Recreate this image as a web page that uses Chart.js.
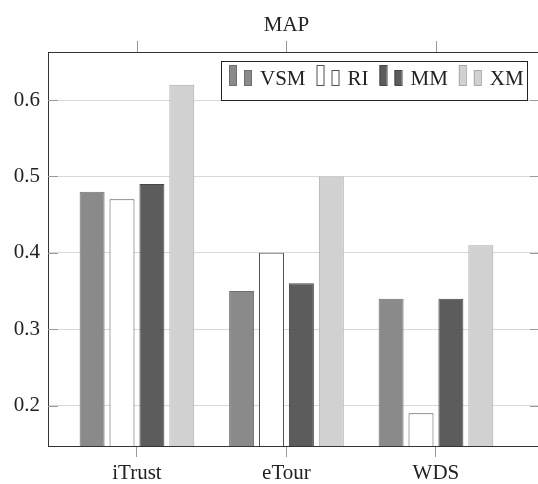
<!DOCTYPE html>
<html>
<head>
<meta charset="utf-8">
<script src="https://cdn.jsdelivr.net/npm/chart.js@4/dist/chart.umd.min.js"></script>
<style>
  html, body { margin: 0; padding: 0; background: #fff; overflow: hidden; width: 538px; height: 484px; }
  canvas { display: block; }
</style>
</head>
<body>
<canvas id="c" width="541" height="484" style="width:541px;height:484px"></canvas>
<script>
// ---- data ----
const categories = ['iTrust', 'eTour', 'WDS'];
const seriesNames = ['VSM', 'RI', 'MM', 'XM'];
const vsm = [0.48, 0.35, 0.34];
const ri  = [0.47, 0.40, 0.19];
const mm  = [0.49, 0.36, 0.34];
const xm  = [0.62, 0.50, 0.41];
const yTicks = [0.2, 0.3, 0.4, 0.5, 0.6];

const fills   = ['#8a8a8a', '#ffffff', '#5c5c5c', '#d0d1d0'];
const borders = ['#6e6e6e', '#505050', '#474747', '#a9a9a9'];
const FONT = 'Liberation Serif';

const seriesValues = [vsm, ri, mm, xm];
const datasets = seriesValues.map((vals, s) => ({
  label: seriesNames[s],
  data: vals.map((v, i) => ({ x: i, y: v })),
  backgroundColor: fills[s],
  borderColor: borders[s],
  borderWidth: 1,
  categoryPercentage: 0.8,
  barPercentage: 0.835
}));

const decorPlugin = {
  id: 'decor',
  afterLayout(chart) {
    // centre the title over the category span as in the reference
    if (chart.titleBlock) {
      chart.titleBlock.left = 33;
      chart.titleBlock.right = 540;
    }
  },
  afterDraw(chart) {
    const ctx = chart.ctx;
    const a = chart.chartArea;
    const xs = chart.scales.x, ys = chart.scales.y;
    ctx.save();
    // top border
    ctx.strokeStyle = '#333';
    ctx.lineWidth = 1;
    ctx.beginPath();
    ctx.moveTo(a.left, Math.round(a.top) + 0.5);
    ctx.lineTo(a.right, Math.round(a.top) + 0.5);
    ctx.stroke();
    // top outward ticks
    ctx.strokeStyle = '#9a9a9a';
    categories.forEach((c, i) => {
      const px = Math.round(xs.getPixelForValue(i)) + 0.5;
      ctx.beginPath();
      ctx.moveTo(px, a.top - 11);
      ctx.lineTo(px, a.top);
      ctx.stroke();
    });
    // inner y ticks
    yTicks.forEach(v => {
      const py = Math.round(ys.getPixelForValue(v)) + 0.5;
      ctx.beginPath();
      ctx.moveTo(a.left, py); ctx.lineTo(a.left + 10, py);
      ctx.moveTo(a.right - 10, py); ctx.lineTo(a.right, py);
      ctx.stroke();
    });
    // legend
    const bx = 221, by = 61, bw = 306, bh = 39;
    ctx.fillStyle = '#fff';
    ctx.fillRect(bx, by, bw, bh);
    ctx.strokeStyle = '#222';
    ctx.strokeRect(bx + 0.5, by + 0.5, bw, bh);
    ctx.font = '21px "' + FONT + '"';
    ctx.textBaseline = 'alphabetic';
    ctx.textAlign = 'left';
    let x = 229;
    const base = 85;
    chart.data.datasets.forEach(ds => {
      ctx.fillStyle = ds.backgroundColor;
      ctx.strokeStyle = ds.borderColor;
      ctx.fillRect(x, base - 20, 7, 20);
      ctx.strokeRect(x + 0.5, base - 20 + 0.5, 7, 20);
      ctx.fillRect(x + 15, base - 15, 7, 15);
      ctx.strokeRect(x + 15.5, base - 15 + 0.5, 7, 15);
      ctx.fillStyle = '#222';
      ctx.fillText(ds.label, x + 31, base);
      x += 31 + ctx.measureText(ds.label).width + 11;
    });
    ctx.restore();
  }
};

new Chart(document.getElementById('c'), {
  type: 'bar',
  data: { datasets },
  options: {
    responsive: false,
    animation: false,
    devicePixelRatio: 1,
    layout: { padding: { left: 0, right: 1, top: 0, bottom: 0 } },
    plugins: {
      legend: { display: false },
      tooltip: { enabled: false },
      title: {
        display: true,
        text: 'MAP',
        color: '#222',
        font: { family: FONT, size: 21, weight: 'normal', lineHeight: 1.2 },
        padding: { top: 13, bottom: 13.8 }
      }
    },
    scales: {
      x: {
        type: 'linear',
        offset: false,
        min: -0.595,
        max: 2.696,
        afterBuildTicks: s => { s.ticks = categories.map((c, i) => ({ value: i })); },
        afterFit: s => { s.height = 38; },
        ticks: {
          callback: v => categories[v] ?? '',
          color: '#222',
          font: { family: FONT, size: 21 },
          padding: 4,
          maxRotation: 0,
          autoSkip: false
        },
        grid: { offset: false, drawOnChartArea: false, drawTicks: true, tickLength: 11, color: '#9a9a9a' },
        border: { color: '#333', width: 1 }
      },
      y: {
        min: 0.147,
        max: 0.663,
        afterBuildTicks: s => { s.ticks = yTicks.map(v => ({ value: v })); },
        afterFit: s => { s.width = 48; },
        ticks: {
          callback: v => v.toFixed(1),
          color: '#222',
          font: { family: FONT, size: 21 },
          padding: 8
        },
        grid: { color: '#d8d8d8', drawTicks: false },
        border: { color: '#333', width: 1 }
      }
    }
  },
  plugins: [decorPlugin]
});
</script>
</body>
</html>
